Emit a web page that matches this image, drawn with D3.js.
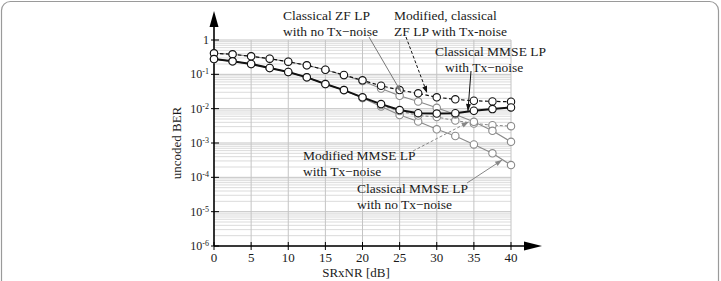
<!DOCTYPE html>
<html><head><meta charset="utf-8">
<script src="https://cdn.jsdelivr.net/npm/d3@7"></script>
<style>
body{margin:0;background:#fff;overflow:hidden}
svg{display:block;overflow:hidden}
text{font-family:"Liberation Serif","Times New Roman",serif;fill:#1a1a1a}
</style>
</head><body>
<svg id="c" width="721" height="281"></svg>
<script>
// ---- data ----
const snr = [0,2.5,5,7.5,10,12.5,15,17.5,20,22.5,25,27.5,30,32.5,35,37.5,40];
const modZfTx   = [0.41,0.383,0.335,0.285,0.233,0.183,0.136,0.0955,0.0668,0.0465,0.0348,0.0279,0.0214,0.0187,0.0170,0.0163,0.0159];
const mmseTx    = [0.279,0.239,0.2,0.153,0.117,0.0818,0.0521,0.0348,0.0214,0.0136,0.0091,0.0074,0.0072,0.0074,0.0087,0.0097,0.0109];
const zfNoTx    = [0.41,0.383,0.335,0.285,0.233,0.183,0.136,0.0945,0.0638,0.0385,0.0238,0.0161,0.0106,0.0068,0.00415,0.00227,0.00108];
const modMmseTx = [0.279,0.239,0.2,0.153,0.117,0.0818,0.0521,0.0348,0.0206,0.0127,0.0085,0.0063,0.0057,0.0045,0.0037,0.0033,0.0031];
const mmseNoTx  = [0.279,0.239,0.2,0.153,0.117,0.0818,0.0521,0.0345,0.0206,0.0115,0.0065,0.0042,0.0025,0.0016,0.00091,0.0005,0.000227];
const xTicks = [0,5,10,15,20,25,30,35,40];
const yTicks = [1,1e-1,1e-2,1e-3,1e-4,1e-5,1e-6];
const yTickExp = ["","-1","-2","-3","-4","-5","-6"];
const xTitle = "SRxNR [dB]";
const yTitle = "uncoded BER";

const annotations = [
  {lines:["Classical ZF LP","with no Tx\u2212noise"], tx:283, ty:20, from:[369,37], to:[25.2,0.0305], color:"#777", dash:null},
  {lines:["Modified, classical","ZF LP with Tx-noise"], tx:394, ty:20, from:[406,37], to:[28.7,0.0285], color:"#111", dash:"3,2"},
  {lines:["Classical MMSE LP","with Tx\u2212noise"], tx:435, ty:56, from:[471,71], to:[34.2,0.0086], color:"#111", dash:null, line2dx:10},
  {lines:["Modified MMSE LP","with Tx\u2212noise"], tx:303, ty:160, from:[413,151], to:[34.3,0.0041], color:"#888", dash:"3,2"},
  {lines:["Classical MMSE LP","with no Tx\u2212noise"], tx:357, ty:193, from:[467,183], to:[38.8,0.00032], color:"#888", dash:null}
];

// ---- layout ----
const svg = d3.select("#c");
const x = d3.scaleLinear().domain([0,40]).range([214,511]);
const y = d3.scaleLog().domain([1e-6,1]).range([246,40]);

// frame
svg.append("rect").attr("x",1.5).attr("y",1.5).attr("width",717).attr("height",300)
  .attr("rx",9).attr("fill","none").attr("stroke","#9a9a9a").attr("stroke-width",1.2);

// grid
const g = svg.append("g");
const minor = [];
for (let e=-6;e<0;e++) for (let m=2;m<=9;m++) minor.push(m*Math.pow(10,e));
g.selectAll("line.hm").data(minor).join("line")
  .attr("x1",x(0)).attr("x2",x(40)).attr("y1",d=>y(d)).attr("y2",d=>y(d))
  .attr("stroke","#d2d2d2").attr("stroke-width",0.8);
g.selectAll("line.hM").data(yTicks).join("line")
  .attr("x1",x(0)).attr("x2",x(40)).attr("y1",d=>y(d)).attr("y2",d=>y(d))
  .attr("stroke","#c4c4c4").attr("stroke-width",1);
g.selectAll("line.v").data(xTicks.slice(1)).join("line")
  .attr("x1",d=>x(d)).attr("x2",d=>x(d)).attr("y1",y(1)).attr("y2",y(1e-6))
  .attr("stroke","#c4c4c4").attr("stroke-width",1);

// axes
const ax = svg.append("g");
ax.append("line").attr("x1",x(0)).attr("x2",532).attr("y1",y(1e-6)).attr("y2",y(1e-6)).attr("stroke","#000").attr("stroke-width",1.6);
ax.append("line").attr("x1",x(0)).attr("x2",x(0)).attr("y1",y(1e-6)).attr("y2",22).attr("stroke","#000").attr("stroke-width",1.6);
ax.append("path").attr("d",`M${x(0)-4.5},27 L${x(0)},11 L${x(0)+4.5},27 Z`).attr("fill","#000");
ax.append("path").attr("d",`M524,${y(1e-6)-4.5} L542,${y(1e-6)} L524,${y(1e-6)+4.5} Z`).attr("fill","#000");
// ticks
ax.selectAll("line.xt").data(xTicks).join("line")
  .attr("x1",d=>x(d)).attr("x2",d=>x(d)).attr("y1",y(1e-6)-4).attr("y2",y(1e-6)+4).attr("stroke","#000").attr("stroke-width",1);
ax.selectAll("line.yt").data(yTicks).join("line")
  .attr("x1",x(0)-3).attr("x2",x(0)+5).attr("y1",d=>y(d)).attr("y2",d=>y(d)).attr("stroke","#000").attr("stroke-width",1);
ax.selectAll("text.xl").data(xTicks).join("text")
  .attr("x",d=>x(d)).attr("y",y(1e-6)+16).attr("text-anchor","middle").attr("font-size",13).text(d=>d);
const yl = ax.selectAll("text.yl").data(yTicks).join("text")
  .attr("x",209).attr("y",d=>y(d)+4).attr("text-anchor","end").attr("font-size",12);
yl.each(function(d,i){
  const t = d3.select(this);
  if (i===0) { t.text("1"); return; }
  t.append("tspan").text("10");
  t.append("tspan").attr("dy",-4).attr("font-size",8).text(yTickExp[i]);
});
svg.append("text").attr("x",356).attr("y",277).attr("text-anchor","middle").attr("font-size",13).text(xTitle);
svg.append("text").attr("transform",`translate(181,${(y(1)+y(1e-6))/2}) rotate(-90)`).attr("text-anchor","middle").attr("font-size",13).text(yTitle);

// series
const series = [
  {v:mmseNoTx, color:"#8a8a8a", w:1.1, dash:null},
  {v:modMmseTx, color:"#8a8a8a", w:1.1, dash:"3,2"},
  {v:zfNoTx, color:"#8a8a8a", w:1.1, dash:null},
  {v:modZfTx, color:"#111", w:1.2, dash:"3.5,2.5"},
  {v:mmseTx, color:"#111", w:2, dash:null}
];
const line = d3.line().x((d,i)=>x(snr[i])).y(d=>y(d));
series.forEach(s=>{
  const gg = svg.append("g");
  gg.append("path").datum(s.v).attr("d",line).attr("fill","none").attr("stroke",s.color)
    .attr("stroke-width",s.w).attr("stroke-dasharray",s.dash);
  gg.selectAll("circle").data(s.v).join("circle")
    .attr("cx",(d,i)=>x(snr[i])).attr("cy",d=>y(d)).attr("r",3.7)
    .attr("fill","#fff").attr("stroke",s.color).attr("stroke-width",1.1);
});

// annotations
annotations.forEach(a=>{
  const tx = x(a.to[0]), ty = y(a.to[1]);
  const [fx,fy] = a.from;
  svg.append("line").attr("x1",fx).attr("y1",fy).attr("x2",tx).attr("y2",ty)
    .attr("stroke",a.color).attr("stroke-width",1).attr("stroke-dasharray",a.dash);
  const ang = Math.atan2(ty-fy, tx-fx);
  const L=7, W=2.5;
  const bx = tx - L*Math.cos(ang), by = ty - L*Math.sin(ang);
  const px = -Math.sin(ang)*W, py = Math.cos(ang)*W;
  svg.append("path").attr("d",`M${tx},${ty} L${bx+px},${by+py} L${bx-px},${by-py} Z`).attr("fill",a.color);
  const t = svg.append("text").attr("font-size",13.5);
  a.lines.forEach((ln,i)=>{
    t.append("tspan").attr("x",a.tx + (i===1 && a.line2dx ? a.line2dx : 0)).attr("y",a.ty + i*16).text(ln);
  });
});
</script>
</body></html>
